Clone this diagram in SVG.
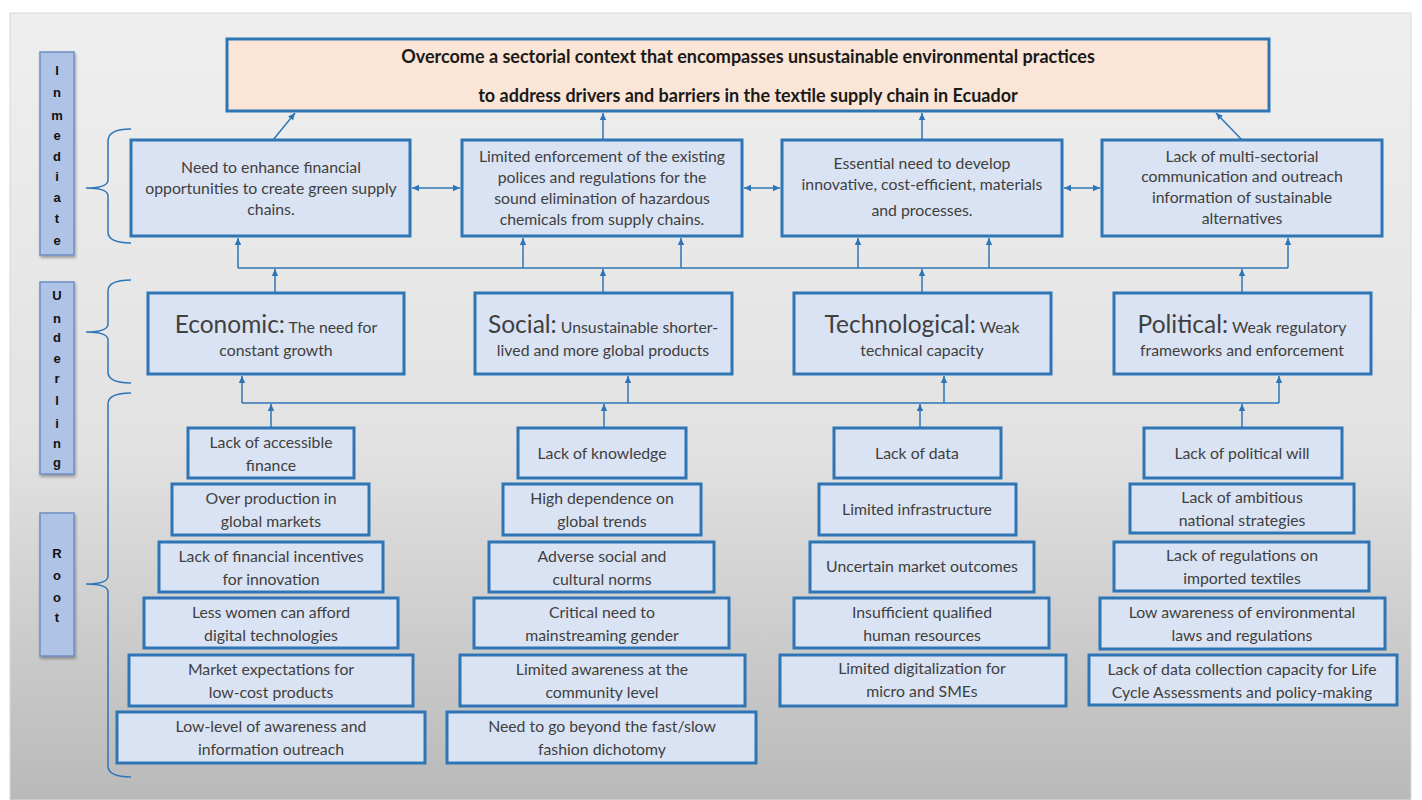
<svg xmlns="http://www.w3.org/2000/svg" width="1422" height="800" viewBox="0 0 1422 800">
<defs>
<linearGradient id="bg" x1="0" y1="0" x2="0" y2="1">
<stop offset="0" stop-color="#efefef"/>
<stop offset="0.55" stop-color="#e2e2e2"/>
<stop offset="1" stop-color="#b9b9b9"/>
</linearGradient>
<filter id="sh" x="-30%" y="-10%" width="160%" height="120%">
<feDropShadow dx="1" dy="2" stdDeviation="1.5" flood-color="#000" flood-opacity="0.35"/>
</filter>
<marker id="ah" markerWidth="8" markerHeight="8" refX="7" refY="4" orient="auto-start-reverse" markerUnits="userSpaceOnUse">
<path d="M0,0.8 L7,4 L0,7.2 Z" fill="#2e75b6"/>
</marker>
<style>
.box{fill:#dae3f3;stroke:#2e75b6;stroke-width:3}
.top{fill:#fbe5d6;stroke:#2e75b6;stroke-width:3}
.bar{fill:#aec3e6;stroke:#6e8fc4;stroke-width:1.5}
.t{font-family:Lato,"Open Sans","Liberation Sans",sans-serif;font-size:15.8px;fill:#404040;text-anchor:middle}
.tb{font-family:Lato,"Open Sans","Liberation Sans",sans-serif;font-size:18px;font-weight:bold;fill:#1a1a1a;text-anchor:middle}
.big{font-size:24.5px}
.lbl{font-family:"Liberation Sans",Arial,sans-serif;font-size:13px;font-weight:bold;fill:#111;text-anchor:middle}
.c{fill:none;stroke:#2e75b6;stroke-width:1.5}
.br{fill:none;stroke:#2e75b6;stroke-width:1.5}
</style>
</defs>
<rect x="0" y="0" width="1422" height="800" fill="#ffffff"/>
<rect x="10" y="13" width="1401" height="787" fill="url(#bg)" stroke="#d8d8d8" stroke-width="1"/>

<g id="labels">
<g id="lbl-immediate">
<rect class="bar" x="40" y="52" width="34" height="203" filter="url(#sh)"/>
<text class="lbl" x="57" y="75">I</text><text class="lbl" x="57" y="97">n</text><text class="lbl" x="57" y="120">m</text><text class="lbl" x="57" y="140">e</text><text class="lbl" x="57" y="161">d</text><text class="lbl" x="57" y="181">i</text><text class="lbl" x="57" y="202">a</text><text class="lbl" x="57" y="223">t</text><text class="lbl" x="57" y="245">e</text>
</g>
<g id="lbl-underlying">
<rect class="bar" x="40" y="282" width="34" height="192" filter="url(#sh)"/>
<text class="lbl" x="57" y="300">U</text><text class="lbl" x="57" y="323">n</text><text class="lbl" x="57" y="342">d</text><text class="lbl" x="57" y="363">e</text><text class="lbl" x="57" y="383">r</text><text class="lbl" x="57" y="405">l</text><text class="lbl" x="57" y="428">i</text><text class="lbl" x="57" y="448">n</text><text class="lbl" x="57" y="467">g</text>
</g>
<g id="lbl-root">
<rect class="bar" x="40" y="513" width="34" height="143" filter="url(#sh)"/>
<text class="lbl" x="57" y="558">R</text><text class="lbl" x="57" y="580">o</text><text class="lbl" x="57" y="602">o</text><text class="lbl" x="57" y="622">t</text>
</g>
</g>

<g id="braces">
<path class="br" d="M131,129 Q108,129 108,141 L108,180 Q108,188 86,188 Q108,188 108,196 L108,232 Q108,243 131,243"/>
<path class="br" d="M131,280 Q108,280 108,291 L108,324 Q108,332 86,332 Q108,332 108,340 L108,372 Q108,383 131,383"/>
<path class="br" d="M131,393 Q108,393 108,404 L108,576 Q108,584 86,584 Q108,584 108,592 L108,766 Q108,777 131,777"/>
</g>

<g id="connectors">
<path class="c" d="M273,140 L295,113" marker-end="url(#ah)"/>
<path class="c" d="M603,140 L603,113" marker-end="url(#ah)"/>
<path class="c" d="M922,140 L922,113" marker-end="url(#ah)"/>
<path class="c" d="M1242,140 L1216,113" marker-end="url(#ah)"/>
<path class="c" d="M412,188 L460,188" marker-start="url(#ah)" marker-end="url(#ah)"/>
<path class="c" d="M744,188 L780,188" marker-start="url(#ah)" marker-end="url(#ah)"/>
<path class="c" d="M1064,188 L1100,188" marker-start="url(#ah)" marker-end="url(#ah)"/>
<path class="c" d="M238,268 L1288,268"/>
<path class="c" d="M238,268 L238,238" marker-end="url(#ah)"/>
<path class="c" d="M523,268 L523,238" marker-end="url(#ah)"/>
<path class="c" d="M681,268 L681,238" marker-end="url(#ah)"/>
<path class="c" d="M858,268 L858,238" marker-end="url(#ah)"/>
<path class="c" d="M989,268 L989,238" marker-end="url(#ah)"/>
<path class="c" d="M1288,268 L1288,238" marker-end="url(#ah)"/>
<path class="c" d="M275,292 L275,269" marker-end="url(#ah)"/>
<path class="c" d="M603,292 L603,269" marker-end="url(#ah)"/>
<path class="c" d="M922,292 L922,269" marker-end="url(#ah)"/>
<path class="c" d="M1242,292 L1242,269" marker-end="url(#ah)"/>
<path class="c" d="M242,403 L1279,403"/>
<path class="c" d="M242,403 L242,376" marker-end="url(#ah)"/>
<path class="c" d="M628,403 L628,376" marker-end="url(#ah)"/>
<path class="c" d="M944,403 L944,376" marker-end="url(#ah)"/>
<path class="c" d="M1279,403 L1279,376" marker-end="url(#ah)"/>
<path class="c" d="M271,427 L271,404" marker-end="url(#ah)"/>
<path class="c" d="M604,427 L604,404" marker-end="url(#ah)"/>
<path class="c" d="M920,427 L920,404" marker-end="url(#ah)"/>
<path class="c" d="M1242,427 L1242,404" marker-end="url(#ah)"/>
</g>

<g id="goal">
<rect class="top" x="227" y="39" width="1042" height="72"/>
<text class="tb" x="748" y="63">Overcome a sectorial context that encompasses unsustainable environmental practices</text>
<text class="tb" x="748" y="102">to address drivers and barriers in the textile supply chain in Ecuador</text>
</g>

<g id="imm1"><rect class="box" x="131" y="140" width="279" height="96"/>
<text class="t" x="271" y="173">Need to enhance financial</text><text class="t" x="271" y="194">opportunities to create green supply</text><text class="t" x="271" y="215">chains.</text></g>
<g id="imm2"><rect class="box" x="462" y="140" width="280" height="96"/>
<text class="t" x="602" y="162">Limited enforcement of the existing</text><text class="t" x="602" y="183">polices and regulations for the</text><text class="t" x="602" y="204">sound elimination of hazardous</text><text class="t" x="602" y="225">chemicals from supply chains.</text></g>
<g id="imm3"><rect class="box" x="782" y="140" width="280" height="96"/>
<text class="t" x="922" y="169">Essential need to develop</text><text class="t" x="922" y="190">innovative, cost-efficient, materials</text><text class="t" x="922" y="216">and processes.</text></g>
<g id="imm4"><rect class="box" x="1102" y="140" width="280" height="96"/>
<text class="t" x="1242" y="162">Lack of multi-sectorial</text><text class="t" x="1242" y="182">communication and outreach</text><text class="t" x="1242" y="203">information of sustainable</text><text class="t" x="1242" y="224">alternatives</text></g>

<g id="und-economic"><rect class="box" x="148" y="293" width="256" height="81"/>
<text class="t" x="276" y="333"><tspan class="big">Economic:</tspan> The need for</text><text class="t" x="276" y="356">constant growth</text></g>
<g id="und-social"><rect class="box" x="475" y="293" width="257" height="81"/>
<text class="t" x="603" y="333"><tspan class="big">Social:</tspan> Unsustainable shorter-</text><text class="t" x="603" y="356">lived and more global products</text></g>
<g id="und-tech"><rect class="box" x="794" y="293" width="257" height="81"/>
<text class="t" x="922" y="333"><tspan class="big">Technological:</tspan> Weak</text><text class="t" x="922" y="356">technical capacity</text></g>
<g id="und-political"><rect class="box" x="1114" y="293" width="257" height="81"/>
<text class="t" x="1242" y="333"><tspan class="big">Political:</tspan> Weak regulatory</text><text class="t" x="1242" y="356">frameworks and enforcement</text></g>

<g id="e1"><rect class="box" x="188" y="428" width="166" height="50"/><text class="t" x="271" y="448">Lack of accessible</text><text class="t" x="271" y="471">finance</text></g>
<g id="e2"><rect class="box" x="172" y="484" width="197" height="51"/><text class="t" x="271" y="504">Over production in</text><text class="t" x="271" y="527">global markets</text></g>
<g id="e3"><rect class="box" x="159" y="542" width="224" height="50"/><text class="t" x="271" y="562">Lack of financial incentives</text><text class="t" x="271" y="585">for innovation</text></g>
<g id="e4"><rect class="box" x="144" y="598" width="254" height="50"/><text class="t" x="271" y="618">Less women can afford</text><text class="t" x="271" y="641">digital technologies</text></g>
<g id="e5"><rect class="box" x="129" y="655" width="284" height="51"/><text class="t" x="271" y="675">Market expectations for</text><text class="t" x="271" y="698">low-cost products</text></g>
<g id="e6"><rect class="box" x="117" y="712" width="308" height="51"/><text class="t" x="271" y="732">Low-level of awareness and</text><text class="t" x="271" y="755">information outreach</text></g>

<g id="s1"><rect class="box" x="518" y="428" width="168" height="50"/><text class="t" x="602" y="459">Lack of knowledge</text></g>
<g id="s2"><rect class="box" x="503" y="484" width="198" height="51"/><text class="t" x="602" y="504">High dependence on</text><text class="t" x="602" y="527">global trends</text></g>
<g id="s3"><rect class="box" x="489" y="542" width="225" height="50"/><text class="t" x="602" y="562">Adverse social and</text><text class="t" x="602" y="585">cultural norms</text></g>
<g id="s4"><rect class="box" x="474" y="598" width="255" height="50"/><text class="t" x="602" y="618">Critical need to</text><text class="t" x="602" y="641">mainstreaming gender</text></g>
<g id="s5"><rect class="box" x="460" y="655" width="285" height="51"/><text class="t" x="602" y="675">Limited awareness at the</text><text class="t" x="602" y="698">community level</text></g>
<g id="s6"><rect class="box" x="447" y="712" width="309" height="51"/><text class="t" x="602" y="732">Need to go beyond the fast/slow</text><text class="t" x="602" y="755">fashion dichotomy</text></g>

<g id="t1"><rect class="box" x="834" y="428" width="167" height="50"/><text class="t" x="917" y="459">Lack of data</text></g>
<g id="t2"><rect class="box" x="819" y="484" width="197" height="51"/><text class="t" x="917" y="515">Limited infrastructure</text></g>
<g id="t3"><rect class="box" x="810" y="542" width="224" height="50"/><text class="t" x="922" y="572">Uncertain market outcomes</text></g>
<g id="t4"><rect class="box" x="794" y="598" width="255" height="50"/><text class="t" x="922" y="618">Insufficient qualified</text><text class="t" x="922" y="641">human resources</text></g>
<g id="t5"><rect class="box" x="780" y="655" width="286" height="51"/><text class="t" x="922" y="674">Limited digitalization for</text><text class="t" x="922" y="697">micro and SMEs</text></g>

<g id="p1"><rect class="box" x="1144" y="428" width="198" height="50"/><text class="t" x="1242" y="459">Lack of political will</text></g>
<g id="p2"><rect class="box" x="1130" y="484" width="224" height="49"/><text class="t" x="1242" y="503">Lack of ambitious</text><text class="t" x="1242" y="526">national strategies</text></g>
<g id="p3"><rect class="box" x="1114" y="542" width="255" height="49"/><text class="t" x="1242" y="561">Lack of regulations on</text><text class="t" x="1242" y="584">imported textiles</text></g>
<g id="p4"><rect class="box" x="1100" y="598" width="285" height="51"/><text class="t" x="1242" y="618">Low awareness of environmental</text><text class="t" x="1242" y="641">laws and regulations</text></g>
<g id="p5"><rect class="box" x="1089" y="655" width="308" height="50"/><text class="t" x="1242" y="675">Lack of data collection capacity for Life</text><text class="t" x="1242" y="698">Cycle Assessments and policy-making</text></g>
</svg>
